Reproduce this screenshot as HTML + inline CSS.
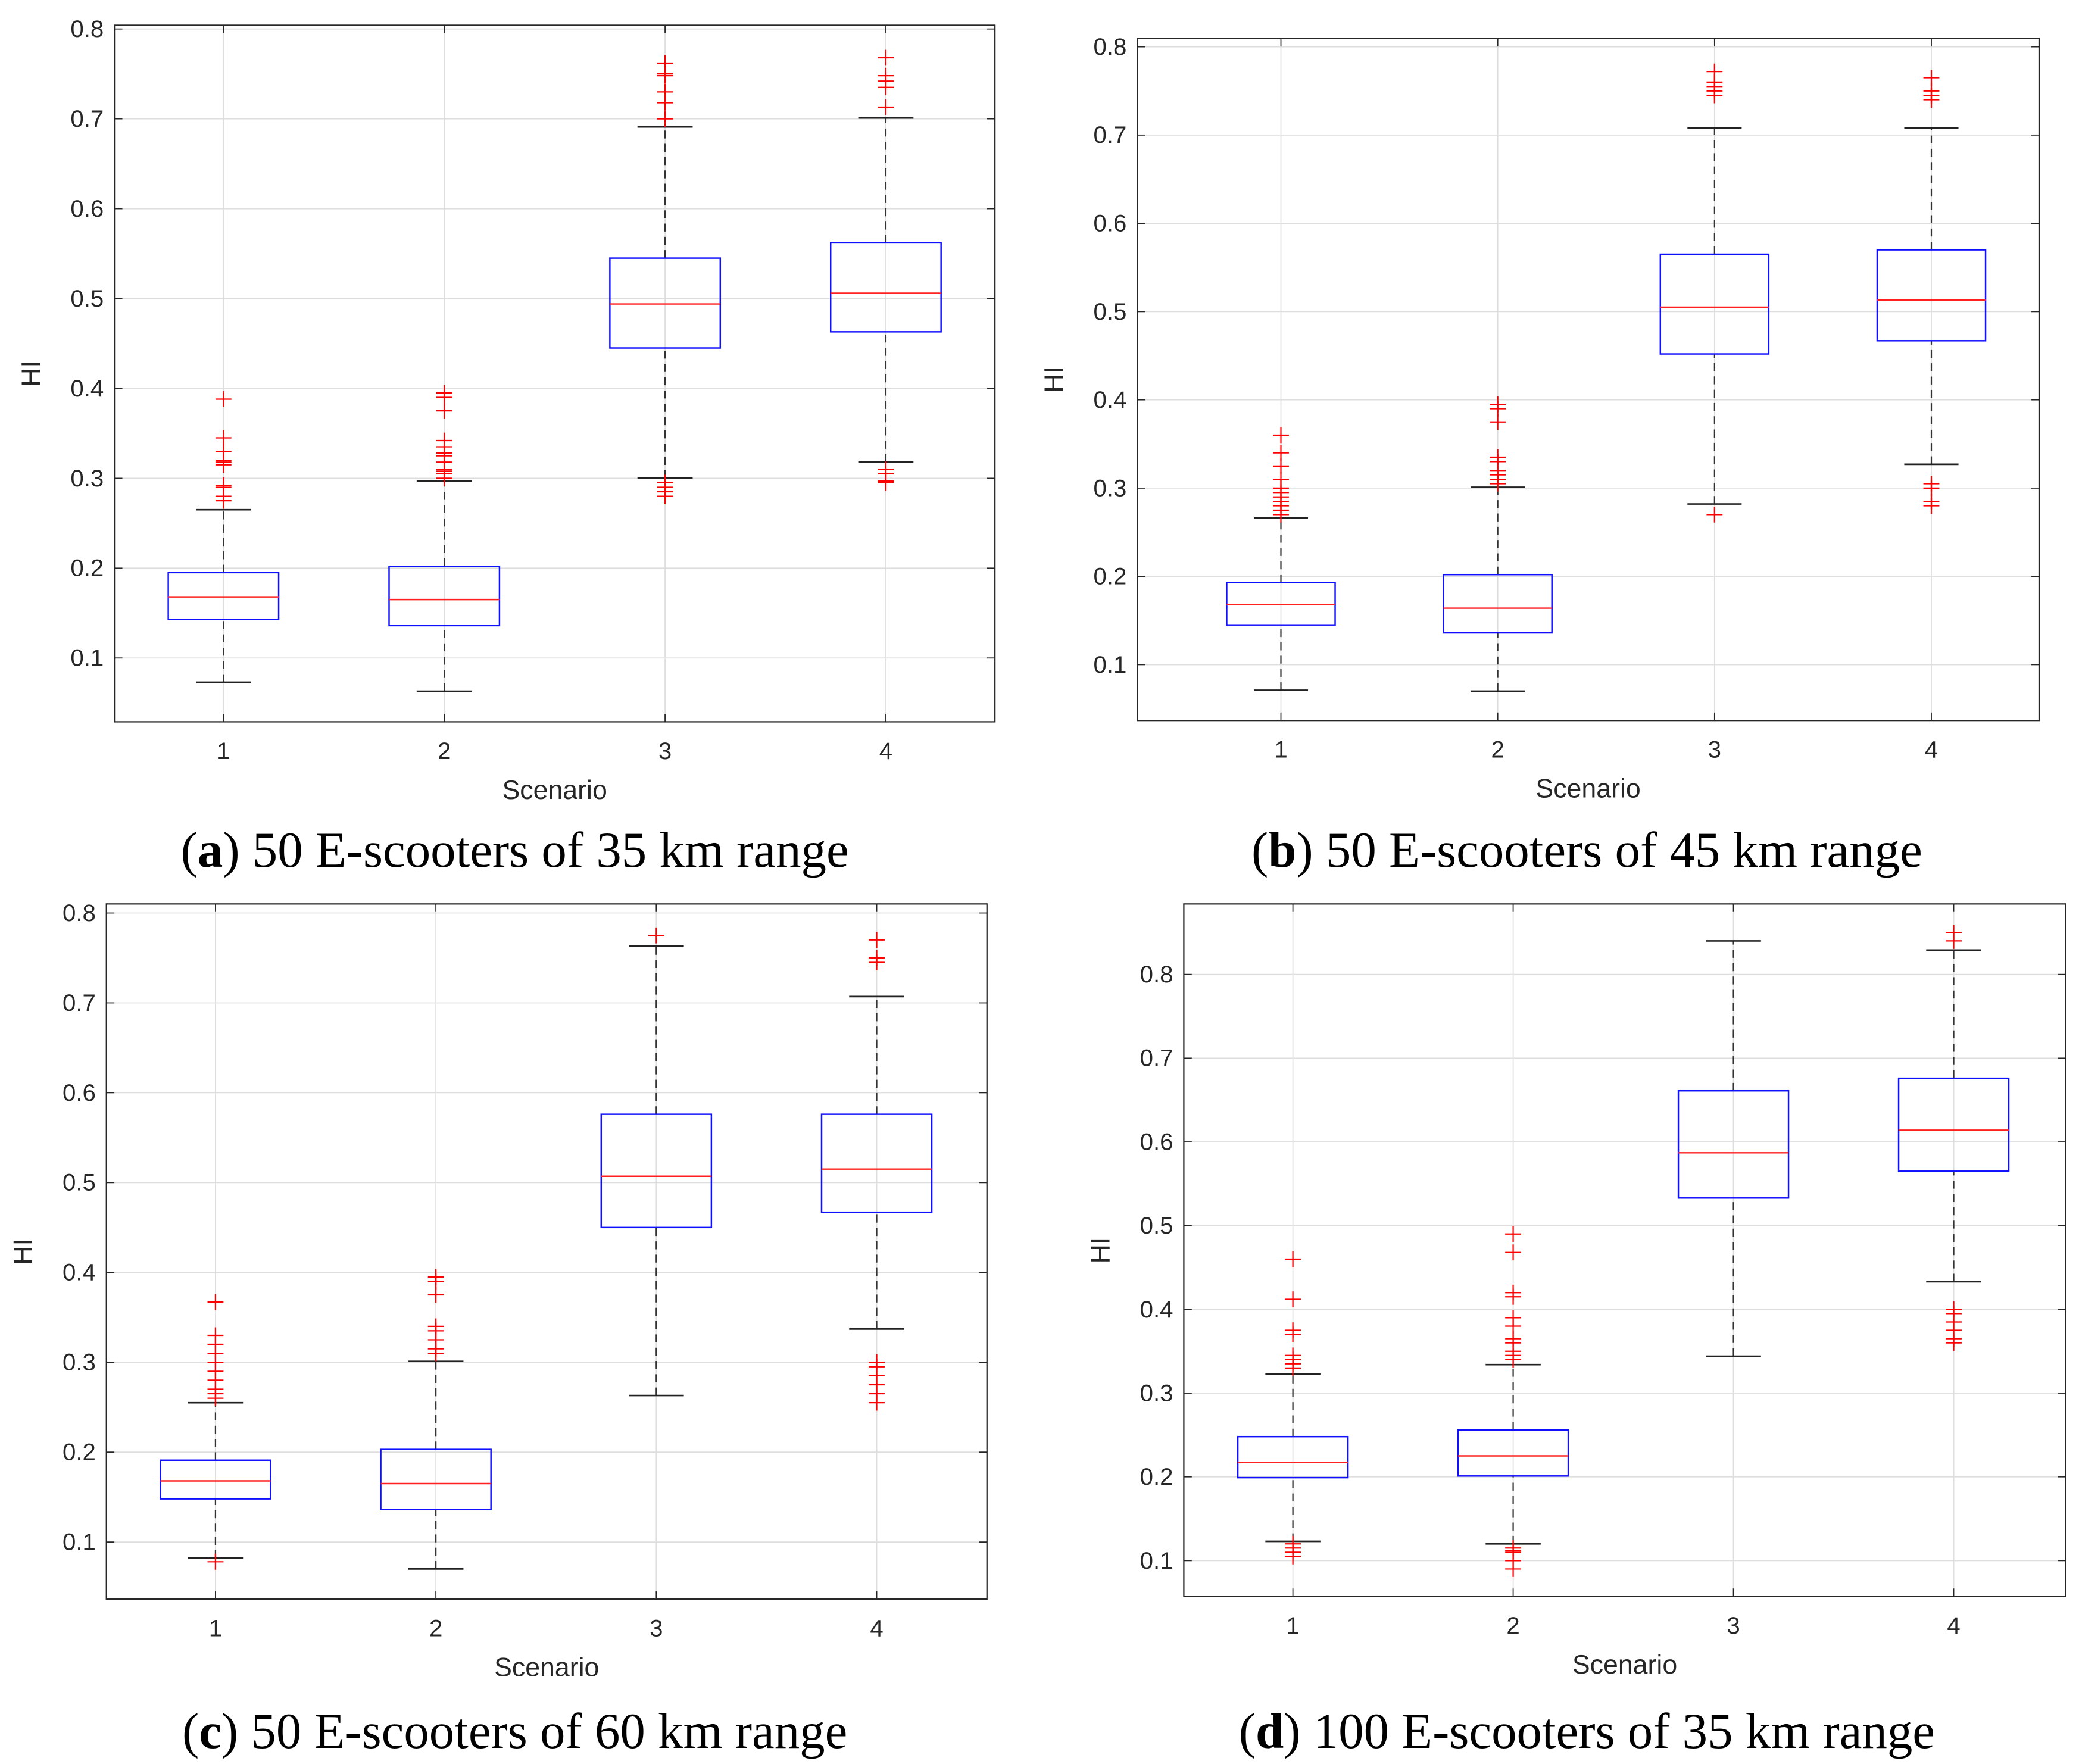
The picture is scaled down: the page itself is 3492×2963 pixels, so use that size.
<!DOCTYPE html>
<html><head><meta charset="utf-8">
<style>
html,body{margin:0;padding:0;background:#fff;}
svg{display:block;}
</style></head>
<body>
<svg id="fig" width="3492" height="2963" viewBox="0 0 1563 1327" preserveAspectRatio="none" xmlns="http://www.w3.org/2000/svg"></svg>
<script>
// ---- data (per panel) ----
const scenarios = [1, 2, 3, 4];
const captionsBold = ["a", "b", "c", "d"];
const captionsText = [" 50 E-scooters of 35 km range", " 50 E-scooters of 45 km range", " 50 E-scooters of 60 km range", " 100 E-scooters of 35 km range"];
const yTicksA = [0.1, 0.2, 0.3, 0.4, 0.5, 0.6, 0.7, 0.8];
const yTicksD = [0.1, 0.2, 0.3, 0.4, 0.5, 0.6, 0.7, 0.8];
// [lowWhisker, q1, median, q3, highWhisker]
const statsA = [[0.073,0.143,0.168,0.195,0.265],[0.063,0.136,0.165,0.202,0.297],[0.300,0.445,0.494,0.545,0.691],[0.318,0.463,0.506,0.562,0.701]];
const outliersA = [[0.275,0.28,0.29,0.292,0.315,0.318,0.32,0.33,0.345,0.388],[0.3,0.305,0.308,0.31,0.318,0.325,0.328,0.335,0.342,0.375,0.39,0.395],[0.28,0.285,0.29,0.295,0.70,0.718,0.73,0.748,0.75,0.762],[0.295,0.297,0.305,0.31,0.713,0.735,0.742,0.748,0.768]];
const statsB = [[0.071,0.145,0.168,0.193,0.266],[0.070,0.136,0.164,0.202,0.301],[0.282,0.452,0.505,0.565,0.708],[0.327,0.467,0.513,0.570,0.708]];
const outliersB = [[0.27,0.275,0.28,0.285,0.29,0.295,0.30,0.31,0.325,0.34,0.36],[0.305,0.31,0.315,0.32,0.33,0.335,0.375,0.39,0.395],[0.27,0.745,0.75,0.755,0.76,0.772],[0.28,0.285,0.30,0.305,0.74,0.745,0.75,0.765]];
const statsC = [[0.082,0.148,0.168,0.191,0.255],[0.070,0.136,0.165,0.203,0.301],[0.263,0.450,0.507,0.576,0.763],[0.337,0.467,0.515,0.576,0.707]];
const outliersC = [[0.078,0.26,0.265,0.27,0.28,0.29,0.30,0.31,0.32,0.33,0.367],[0.31,0.315,0.325,0.335,0.34,0.375,0.39,0.395],[0.775],[0.255,0.265,0.275,0.285,0.295,0.30,0.745,0.75,0.77]];
const statsD = [[0.123,0.199,0.217,0.248,0.323],[0.120,0.201,0.225,0.256,0.334],[0.344,0.533,0.587,0.661,0.840],[0.433,0.565,0.614,0.676,0.829]];
const outliersD = [[0.105,0.11,0.115,0.12,0.33,0.335,0.34,0.345,0.37,0.375,0.412,0.46],[0.09,0.10,0.11,0.112,0.115,0.34,0.345,0.35,0.36,0.365,0.38,0.39,0.415,0.42,0.468,0.49],[],[0.36,0.365,0.375,0.385,0.395,0.40,0.84,0.85]];

// ---- layout (pixels, not data) ----
const panels = [
 {key:"a", stats:statsA, outs:outliersA, ticks:yTicksA, L:86, R:748, T:19, B:543, x1:168, dx:166, y01:495, yPer:67.6, capX:387, capY:652},
 {key:"b", stats:statsB, outs:outliersB, ticks:yTicksA, L:855, R:1533, T:29, B:542, x1:963, dx:163, y01:500, yPer:66.4, capX:1193, capY:652},
 {key:"c", stats:statsC, outs:outliersC, ticks:yTicksA, L:80, R:742, T:680, B:1203, x1:162, dx:165.7, y01:1160, yPer:67.6, capX:387, capY:1315},
 {key:"d", stats:statsD, outs:outliersD, ticks:yTicksD, L:890, R:1553, T:680, B:1201, x1:972, dx:165.6, y01:1174, yPer:63, capX:1193, capY:1315}
];
const NS = "http://www.w3.org/2000/svg";
const svg = document.getElementById("fig");
function mk(tag, attrs, parent, name, inter){
  const e = document.createElementNS(NS, tag);
  for (const k in attrs) e.setAttribute(k, attrs[k]);
  
  
  parent.appendChild(e); return e;
}
panels.forEach((p, pi) => {
  const g = mk("g", {}, svg, "panel-" + p.key, false);
  const X = s => p.x1 + (s - 1) * p.dx;
  const Y = v => p.y01 - (v - 0.1) * 10 * p.yPer;
  mk("rect", {x:p.L, y:p.T, width:p.R-p.L, height:p.B-p.T, fill:"#fff"}, g, "plot-area", false);
  p.ticks.forEach(t => {
    const y = Y(t); if (y < p.T || y > p.B) return;
    mk("line", {x1:p.L, x2:p.R, y1:y, y2:y, stroke:"#dedede", "stroke-width":0.8}, g, "y-gridline", false);
    mk("line", {x1:p.L, x2:p.L+6, y1:y, y2:y, stroke:"#262626", "stroke-width":0.8}, g, "y-tick", false);
    mk("line", {x1:p.R-6, x2:p.R, y1:y, y2:y, stroke:"#262626", "stroke-width":0.8}, g, "y-tick-right", false);
    const lab = mk("text", {x:p.L-8, y:y+6, "text-anchor":"end", "font-family":"Liberation Sans, sans-serif", "font-size":18, fill:"#262626"}, g, "y-tick-label", false);
    lab.textContent = t.toFixed(1);
  });
  scenarios.forEach(s => {
    const x = X(s);
    mk("line", {x1:x, x2:x, y1:p.T, y2:p.B, stroke:"#dedede", "stroke-width":0.8}, g, "x-gridline", false);
    mk("line", {x1:x, x2:x, y1:p.B-6, y2:p.B, stroke:"#262626", "stroke-width":0.8}, g, "x-tick", false);
    mk("line", {x1:x, x2:x, y1:p.T, y2:p.T+6, stroke:"#262626", "stroke-width":0.8}, g, "x-tick-top", false);
    const lab = mk("text", {x:x, y:p.B+28, "text-anchor":"middle", "font-family":"Liberation Sans, sans-serif", "font-size":18, fill:"#262626"}, g, "x-tick-label", false);
    lab.textContent = String(s);
  });
  mk("rect", {x:p.L, y:p.T, width:p.R-p.L, height:p.B-p.T, fill:"none", stroke:"#262626", "stroke-width":1}, g, "axes-frame", false);
  const hw = p.dx * 0.25, cw = p.dx * 0.125;
  p.stats.forEach((st, i) => {
    const x = X(scenarios[i]);
    const bg = mk("g", {}, g, "box-scenario-" + scenarios[i], false);
    mk("line", {x1:x, x2:x, y1:Y(st[0]), y2:Y(st[1]), stroke:"#333", "stroke-width":1, "stroke-dasharray":"6,4"}, bg, "lower-whisker", false);
    mk("line", {x1:x, x2:x, y1:Y(st[3]), y2:Y(st[4]), stroke:"#333", "stroke-width":1, "stroke-dasharray":"6,4"}, bg, "upper-whisker", false);
    mk("line", {x1:x-cw, x2:x+cw, y1:Y(st[0]), y2:Y(st[0]), stroke:"#222", "stroke-width":1.2}, bg, "lower-cap", false);
    mk("line", {x1:x-cw, x2:x+cw, y1:Y(st[4]), y2:Y(st[4]), stroke:"#222", "stroke-width":1.2}, bg, "upper-cap", false);
    mk("rect", {x:x-hw, y:Y(st[3]), width:2*hw, height:Y(st[1])-Y(st[3]), fill:"none", stroke:"#1010ff", "stroke-width":1.1}, bg, "iqr-box", false);
    mk("line", {x1:x-hw, x2:x+hw, y1:Y(st[2]), y2:Y(st[2]), stroke:"#ff2020", "stroke-width":1.1}, bg, "median-line", false);
    p.outs[i].forEach(v => {
      const y = Y(v);
      mk("path", {d:`M${x-6},${y}H${x+6}M${x},${y-6}V${y+6}`, stroke:"#ff0000", "stroke-width":1, fill:"none"}, bg, "outlier-marker", false);
    });
  });
  const xt = mk("text", {x:(p.L+p.R)/2, y:p.B+58, "text-anchor":"middle", "font-family":"Liberation Sans, sans-serif", "font-size":20, fill:"#262626"}, g, "x-axis-title", false);
  xt.textContent = "Scenario";
  const yx = p.L - 56, yy = (p.T+p.B)/2;
  const yt = mk("text", {x:yx, y:yy, "text-anchor":"middle", transform:`rotate(-90 ${yx} ${yy})`, "font-family":"Liberation Sans, sans-serif", "font-size":20, fill:"#262626"}, g, "y-axis-title", false);
  yt.textContent = "HI";
  const cap = mk("text", {x:p.capX, y:p.capY, "text-anchor":"middle", "font-family":"Liberation Serif, serif", "font-size":38, fill:"#000"}, g, "panel-caption", false);
  const t1 = mk("tspan", {}, cap, "caption-paren", false); t1.textContent = "(";
  const t2 = mk("tspan", {"font-weight":"bold"}, cap, "caption-letter", false); t2.textContent = captionsBold[pi];
  const t3 = mk("tspan", {}, cap, "caption-text", false); t3.textContent = ")" + captionsText[pi];
});
</script>
</body></html>
